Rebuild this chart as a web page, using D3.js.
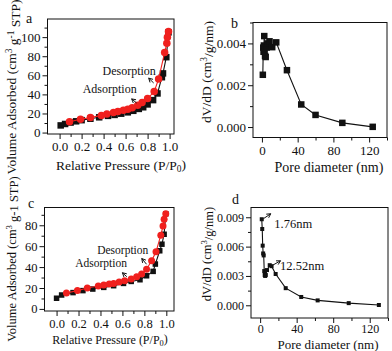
<!DOCTYPE html>
<html><head><meta charset="utf-8">
<script src="https://cdn.jsdelivr.net/npm/d3@7/dist/d3.min.js"></script>
<style>
body{margin:0;background:#fff;}
svg{display:block;}
svg text{font-family:"Liberation Serif","Times New Roman",Times,"DejaVu Serif",serif !important;fill:#111;}
</style></head><body>
<svg id="chart" width="392" height="351" font-family="Liberation Serif, Times New Roman, DejaVu Serif, serif"></svg>
<script>
// ---- Panel a: N2 isotherm ----
const aAdsX = [0.01,0.05,0.10,0.15,0.20,0.28,0.36,0.44,0.50,0.56,0.62,0.67,0.72,0.76,0.80,0.85,0.89,0.93,0.94,0.97,0.99];
const aAdsY = [7.5,9,10.5,11.8,13,14.5,16,17.5,18.5,19.8,21.2,22.8,24.8,26.5,29.5,34,41,58,62,79,105];
const aDesX = [0.99,0.98,0.975,0.955,0.90,0.86,0.80,0.75,0.71,0.66,0.62,0.58,0.53,0.49,0.43,0.38,0.28,0.19,0.09];
const aDesY = [106,100,93.5,84,56,43,35.6,31.5,28.6,26,24.5,23.5,22,20.9,19.5,18,15.7,14,11.4];
// ---- Panel b: pore size distribution ----
const bX = [1.0,1.5,1.8,2.2,2.6,3.0,3.5,4.2,5.2,6.5,8.5,11.5,16,28,44,60,90,124];
const bY = [0.0025,0.0038,0.0036,0.0039,0.00435,0.0037,0.0034,0.00335,0.0038,0.0040,0.0041,0.00382,0.00405,0.00272,0.00108,0.00058,0.0002,0.00001];
// ---- Panel c: N2 isotherm ----
const cAdsX = [0.00,0.046,0.15,0.24,0.33,0.43,0.52,0.61,0.68,0.76,0.82,0.88,0.90,0.94,0.96,0.98,0.995];
const cAdsY = [10.2,13.3,15.6,17.5,19,20.6,22.2,24.4,26.3,27.9,31.7,35.9,42.9,55.6,61.9,71.4,91];
const cDesX = [0.995,0.98,0.97,0.95,0.906,0.866,0.82,0.775,0.73,0.68,0.62,0.57,0.52,0.48,0.43,0.38,0.28,0.19,0.09];
const cDesY = [91,85.7,79.4,70.5,54.6,46,38,33.3,30.8,28.6,27,25.7,24.4,23.8,22.9,21.9,20,17.5,15.2];
// ---- Panel d: pore size distribution ----
const dX = [1.76,2.3,2.8,3.3,3.9,4.5,5.0,5.5,6.2,7.5,10.5,12.52,17,28,45,63,97,130];
const dY = [0.0088,0.0078,0.0061,0.0053,0.0051,0.0035,0.0031,0.0030,0.0031,0.0036,0.0041,0.0040,0.0032,0.00175,0.00085,0.0005,0.00022,0.00003];
// ---- Ticks ----
const isoXTicks = [0,0.2,0.4,0.6,0.8,1.0];
const isoXMinor = [0.1,0.3,0.5,0.7,0.9];
const aYTicks = [0,20,40,60,80,100];
const aYMinor = [10,30,50,70,90,110];
const cYTicks = [0,20,40,60,80];
const cYMinor = [10,30,50,70,90];
const poreXTicks = [0,40,80,120];
const poreXMinor = [20,60,100,140];
const bYTicks = [0,0.002,0.004];
const bYMinor = [0.001,0.003,0.005];
const dYTicks = [0,0.003,0.006,0.009];
const dYMinor = [0.0015,0.0045,0.0075];

const svg = d3.select('#chart');
const RED = '#f0201e', BLK = '#111';
const FONT = '"Liberation Serif","Times New Roman",Times,"DejaVu Serif",serif';

function arrow(g, x1, y1, x2, y2){
  const ang = Math.atan2(y2-y1, x2-x1), L = 4.5, sp = 0.5;
  g.append('path')
    .attr('d', `M${x1},${y1}L${x2},${y2}M${x2-L*Math.cos(ang-sp)},${y2-L*Math.sin(ang-sp)}L${x2},${y2}L${x2-L*Math.cos(ang+sp)},${y2-L*Math.sin(ang+sp)}`)
    .attr('fill','none').attr('stroke',BLK).attr('stroke-width',1);
}

function panel(o){
  const g = svg.append('g');
  const x = d3.scaleLinear().domain(o.xd).range([o.l,o.r]);
  const y = d3.scaleLinear().domain(o.yd).range([o.b,o.t]);
  const clean = s => { s.select('.domain').remove(); s.attr('font-size',null).attr('font-family',FONT);
    s.selectAll('line').attr('stroke',BLK); s.selectAll('text').attr('font-size',o.tfs).attr('fill','#111').style('font-family',FONT); };
  g.append('g').attr('transform',`translate(0,${o.b})`)
    .call(d3.axisBottom(x).tickValues(o.xMinor).tickSize(3).tickFormat('')).call(clean);
  g.append('g').attr('transform',`translate(0,${o.b})`)
    .call(d3.axisBottom(x).tickValues(o.xTicks).tickSize(5).tickPadding(o.xPad).tickFormat(o.xFmt)).call(clean);
  g.append('g').attr('transform',`translate(${o.l},0)`)
    .call(d3.axisLeft(y).tickValues(o.yMinor).tickSize(3).tickFormat('')).call(clean);
  g.append('g').attr('transform',`translate(${o.l},0)`)
    .call(d3.axisLeft(y).tickValues(o.yTicks).tickSize(5).tickPadding(2).tickFormat(o.yFmt)).call(clean);
  g.append('rect').attr('x',o.l).attr('y',o.t).attr('width',o.r-o.l).attr('height',o.b-o.t)
    .attr('fill','none').attr('stroke',BLK).attr('stroke-width',1);
  const line = d3.line().x(d=>x(d[0])).y(d=>y(d[1]));
  o.series.forEach(s=>{
    const pts = s.x.map((v,i)=>[v,s.y[i]]);
    g.append('path').datum(pts).attr('d',line).attr('fill','none').attr('stroke',s.color).attr('stroke-width',1.1);
    if(s.shape==='circle'){
      g.selectAll(null).data(pts).enter().append('circle')
        .attr('cx',d=>x(d[0])).attr('cy',d=>y(d[1])).attr('r',s.size/2).attr('fill',s.color);
    } else {
      g.selectAll(null).data(pts).enter().append('rect')
        .attr('x',d=>x(d[0])-s.size/2).attr('y',d=>y(d[1])-s.size/2).attr('width',s.size).attr('height',s.size).attr('fill',s.color);
    }
  });
  (o.notes||[]).forEach(n=>{
    g.append('text').attr('x',x(n.tx)).attr('y',y(n.ty)).attr('font-size',n.fs).text(n.text);
    arrow(g, x(n.ax1), y(n.ay1), x(n.ax2), y(n.ay2));
  });
  g.append('text').attr('x',o.lab[0]).attr('y',o.lab[1]).attr('font-size',o.lfs).text(o.label);
  const xt = g.append('text').attr('x',(o.xtPos[0])).attr('y',o.xtPos[1]).attr('text-anchor','middle').attr('font-size',o.xfs);
  o.xTitle(xt);
  const yt = g.append('text').attr('transform',`translate(${o.ytPos[0]},${o.ytPos[1]}) rotate(-90)`).attr('text-anchor','middle').attr('font-size',o.yfs);
  o.yTitle(yt);
}

const f1 = d3.format('.1f'), f3 = d3.format('.3f');
const isoXTitle = t => { t.append('tspan').text('Relative Pressure (P/P'); t.append('tspan').attr('font-size','0.7em').attr('dy','0.25em').text('0'); t.append('tspan').attr('dy','-0.25em').text(')'); };
const poreXTitle = t => t.text('Pore diameter (nm)');
const poreYTitle = t => { t.append('tspan').text('dV/dD (cm'); t.append('tspan').attr('font-size','0.7em').attr('dy','-0.45em').text('3'); t.append('tspan').attr('dy','0.45em').text('/g/nm)'); };

panel({l:47.5,r:174,t:19,b:134, xd:[-0.11,1.04], yd:[-1.5,119],
  xTicks:isoXTicks, xMinor:isoXMinor, yTicks:aYTicks, yMinor:aYMinor, xFmt:f1, yFmt:d3.format('d'),
  tfs:13, xPad:3, label:'a', lab:[26,23], lfs:14,
  xtPos:[121,170], xfs:13.5, ytPos:[16,87], yfs:13.5,
  xTitle:isoXTitle,
  yTitle:t=>{ t.append('tspan').text('Volume Adsorbed (cm'); t.append('tspan').attr('font-size','0.7em').attr('dy','-0.45em').text('3');
    t.append('tspan').attr('dy','0.45em').text(' g'); t.append('tspan').attr('font-size','0.7em').attr('dy','-0.45em').text('-1');
    t.append('tspan').attr('dy','0.45em').text(' STP)'); },
  series:[{x:aAdsX,y:aAdsY,color:BLK,shape:'square',size:6.5},{x:aDesX,y:aDesY,color:RED,shape:'circle',size:7.5}],
  notes:[{text:'Desorption',tx:0.39,ty:60.5,fs:12,ax1:0.855,ay1:52,ax2:0.81,ay2:57},
         {text:'Adsorption',tx:0.21,ty:41.6,fs:12,ax1:0.70,ay1:31,ax2:0.655,ay2:35.3}]
});

panel({l:253,r:387,t:22.5,b:137.5, xd:[-10,140], yd:[-0.0005,0.005],
  xTicks:poreXTicks, xMinor:poreXMinor, yTicks:bYTicks, yMinor:bYMinor, xFmt:d3.format('d'), yFmt:f3,
  tfs:13, xPad:3, label:'b', lab:[231,28], lfs:14,
  xtPos:[329,172], xfs:14, ytPos:[211,72], yfs:13.5,
  xTitle:poreXTitle, yTitle:poreYTitle,
  series:[{x:bX,y:bY,color:BLK,shape:'square',size:6.5}]
});

panel({l:44.5,r:174,t:207.5,b:311, xd:[-0.11,1.07], yd:[-2,97],
  xTicks:isoXTicks, xMinor:isoXMinor, yTicks:cYTicks, yMinor:cYMinor, xFmt:f1, yFmt:d3.format('d'),
  tfs:12.5, xPad:3, label:'c', lab:[28,208], lfs:14,
  xtPos:[110,344], xfs:12, ytPos:[16,259], yfs:12.5,
  xTitle:isoXTitle,
  yTitle:t=>{ t.append('tspan').text('Volume Adsorbed (cm'); t.append('tspan').attr('font-size','0.7em').attr('dy','-0.45em').text('3');
    t.append('tspan').attr('dy','0.45em').text(' g-1 STP)'); },
  series:[{x:cAdsX,y:cAdsY,color:BLK,shape:'square',size:5.5},{x:cDesX,y:cDesY,color:RED,shape:'circle',size:7}],
  notes:[{text:'Desorption',tx:0.37,ty:52.5,fs:11.5,ax1:0.82,ay1:42.7,ax2:0.776,ay2:48.2},
         {text:'Adsorption',tx:0.17,ty:40,fs:11.5,ax1:0.64,ay1:30.8,ax2:0.60,ay2:34.6}]
});

panel({l:251,r:388,t:207.5,b:318, xd:[-10,140], yd:[-0.0013,0.010],
  xTicks:poreXTicks, xMinor:poreXMinor, yTicks:dYTicks, yMinor:dYMinor, xFmt:d3.format('d'), yFmt:f3,
  tfs:12, xPad:1, label:'d', lab:[232,204], lfs:14,
  xtPos:[328,348.5], xfs:13, ytPos:[211,254], yfs:12.5,
  xTitle:poreXTitle, yTitle:poreYTitle,
  series:[{x:dX,y:dY,color:BLK,shape:'square',size:4}],
  notes:[{text:'1.76nm',tx:15.5,ty:0.00793,fs:12.5,ax1:3.5,ay1:0.00885,ax2:11.6,ay2:0.00936},
         {text:'12.52nm',tx:21.8,ty:0.00358,fs:12.5,ax1:13.6,ay1:0.00409,ax2:22.3,ay2:0.00455}]
});
</script></body></html>
